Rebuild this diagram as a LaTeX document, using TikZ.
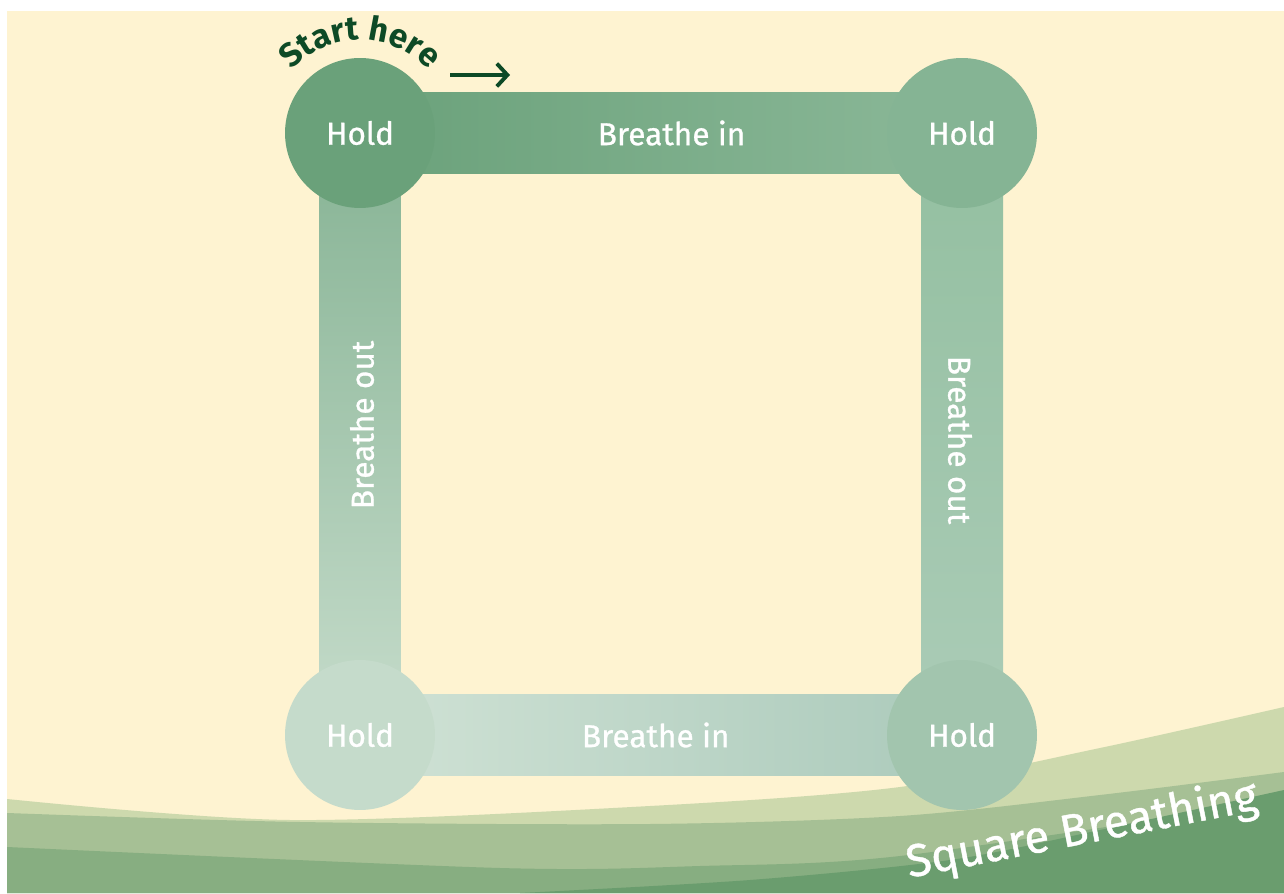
\documentclass[tikz,border=0pt]{standalone}
\usepackage{fontspec}
\setmainfont{Fira Sans}
\newfontfamily\lblfont{Fira Sans}[FakeBold=0.9]
\usetikzlibrary{decorations.text,arrows.meta}
\definecolor{cream}{HTML}{FEF3D1}
\definecolor{bandA}{HTML}{CDD9AD}
\definecolor{bandB}{HTML}{A6C095}
\definecolor{bandC}{HTML}{87AE81}
\definecolor{bandD}{HTML}{6A9D6E}
\definecolor{startgreen}{HTML}{0D4A26}
\definecolor{cTL}{HTML}{6AA17A}
\definecolor{cTR}{HTML}{85B494}
\definecolor{cBL}{HTML}{C5DBCB}
\definecolor{cBR}{HTML}{A2C5AE}
\definecolor{tbMid}{HTML}{74A883}
\definecolor{tbRight}{HTML}{8BB898}
\definecolor{bbLeft}{HTML}{D0E2D5}
\definecolor{bbRight}{HTML}{ABCABB}
\definecolor{lbTop}{HTML}{86B394}
\definecolor{lbBot}{HTML}{C6DCCB}
\definecolor{rbTop}{HTML}{93BFA0}
\definecolor{rbBot}{HTML}{ABCCB7}
\begin{document}
\begin{tikzpicture}[x=0.02cm,y=0.02cm,
  lbl/.style={text=white,font=\lblfont\fontsize{18}{20}\selectfont},
  holdc/.style={circle,minimum size=3cm,inner sep=0pt,lbl},
  hbarbox/.style={rectangle,minimum width=12.04cm,minimum height=1.64cm,inner sep=0pt,lbl},
  vbarbox/.style={rectangle,minimum width=1.64cm,minimum height=12.04cm,inner sep=0pt},
  arrowline/.style={startgreen,line width=2.2pt,-{Straight Barb[length=6pt,width=13pt]}}]
\useasboundingbox (0,0) rectangle (1284,893);
\fill[white] (0,0) rectangle (1284,893);
\fill[cream] (7,0) rectangle (1284,882);
% ground bands
\fill[bandA] (7,0) -- plot[smooth] coordinates {(7,94) (290,73) (650,87) (900,106) (1100,145) (1284,186)} -- (1284,0) -- cycle;
\fill[bandB] (7,0) -- plot[smooth] coordinates {(7,80) (300,71) (650,69) (900,77) (1100,98) (1284,121)} -- (1284,0) -- cycle;
\fill[bandC] (7,0) -- plot[smooth] coordinates {(7,46) (500,25) (700,27) (900,37) (1284,93)} -- (1284,0) -- cycle;
\fill[bandD] (520,0) -- plot[smooth] coordinates {(520,0) (750,13) (950,33) (1100,63) (1284,103)} -- (1284,0) -- cycle;
% bars
\node[hbarbox,left color=cTL,middle color=tbMid,right color=tbRight] (top) at (661,760) {\hspace*{12pt}Breathe in};
\node[hbarbox,left color=bbLeft,right color=bbRight] (bottom) at (661,158) {Breathe in\hspace*{6pt}};
\node[vbarbox,top color=lbTop,bottom color=lbBot] (left) at (360,459) {};
\node[vbarbox,top color=rbTop,bottom color=rbBot] (right) at (962,459) {};
\node[lbl,rotate=90] (lefttxt) at (362,468) {Breathe out};
\node[lbl,rotate=-90] (righttxt) at (960,453) {Breathe out};
% circles
\node[holdc,fill=cTL] (tl) at (360,760) {Hold};
\node[holdc,fill=cTR] (tr) at (962,760) {Hold};
\node[holdc,fill=cBL] (bl) at (360,158) {Hold};
\node[holdc,fill=cBR] (br) at (962,158) {Hold};
% start here
\path[decorate,decoration={text along path,text align=center,
  text={|\fontsize{19}{22}\selectfont\bfseries\color{startgreen}|Start here}}]
  (tl.center) ++(160:1.86cm) arc[start angle=160,end angle=20,radius=1.86cm];
\coordinate (as) at (450,818);
\coordinate (ae) at (510,818);
\draw[arrowline] (as) -- (ae);
% title
\node[rotate=11,text=white,font=\lblfont\fontsize{26}{28}\selectfont] (title) at (1082,62) {Square Breathing};
\end{tikzpicture}
\end{document}
